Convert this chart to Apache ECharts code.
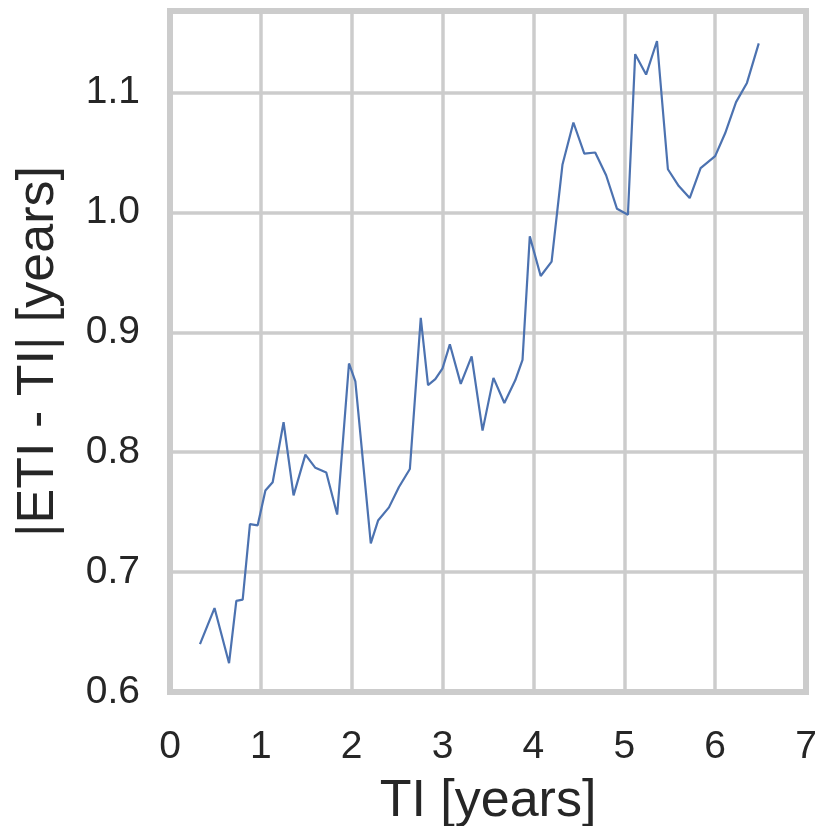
<!DOCTYPE html>
<html>
<head>
<meta charset="utf-8">
<script src="https://cdn.jsdelivr.net/npm/echarts@6/dist/echarts.min.js"></script>
<style>
html,body{margin:0;padding:0;background:#fff;}
#chart{width:819px;height:826px;}
</style>
</head>
<body>
<div id="chart"></div>
<script>
const tiYears = [0.33,0.41,0.49,0.65,0.73,0.80,0.88,0.965,1.05,1.13,1.25,1.36,1.49,1.60,1.72,1.84,1.97,2.04,2.21,2.29,2.41,2.52,2.64,2.76,2.84,2.92,3.00,3.08,3.20,3.32,3.44,3.56,3.68,3.80,3.88,3.96,4.08,4.20,4.32,4.44,4.56,4.68,4.80,4.92,5.04,5.12,5.24,5.36,5.48,5.60,5.72,5.84,6.00,6.11,6.23,6.35,6.48];
const absDiff = [0.640,0.655,0.670,0.624,0.676,0.677,0.740,0.739,0.768,0.775,0.825,0.764,0.798,0.787,0.783,0.748,0.874,0.859,0.724,0.743,0.754,0.771,0.786,0.912,0.856,0.861,0.870,0.890,0.857,0.880,0.818,0.862,0.841,0.860,0.877,0.980,0.947,0.959,1.040,1.075,1.049,1.050,1.031,1.003,0.998,1.132,1.115,1.143,1.036,1.022,1.012,1.037,1.047,1.066,1.092,1.108,1.141];
const xTitle = 'TI [years]';
const yTitle = '|ETI - TI| [years]';

const data = tiYears.map((x, i) => [x, absDiff[i]]);
const font = '"Liberation Sans", Arial, sans-serif';
const textColor = '#262626';
const gridColor = '#cccccc';

const chart = echarts.init(document.getElementById('chart'), null, {renderer: 'canvas'});
chart.setOption({
  animation: false,
  backgroundColor: '#ffffff',
  grid: {left: 170, right: 13, top: 11, bottom: 134, show: true, borderColor: gridColor, borderWidth: 6,
    backgroundColor: 'transparent', containLabel: false, outerBoundsMode: 'none'},
  xAxis: {
    type: 'value', min: 0, max: 7, interval: 1,
    name: xTitle, nameLocation: 'middle', nameGap: 84,
    nameTextStyle: {fontFamily: font, fontSize: 52, color: textColor},
    axisLine: {show: false}, axisTick: {show: false},
    axisLabel: {fontFamily: font, fontSize: 39, color: textColor, margin: 36},
    splitLine: {show: true, lineStyle: {color: gridColor, width: 3.5}}
  },
  yAxis: {
    type: 'value', min: 0.6, max: 1.168, interval: 0.1,
    name: yTitle, nameLocation: 'middle', nameGap: 105, nameRotate: 90,
    nameTextStyle: {fontFamily: font, fontSize: 52, color: textColor},
    axisLine: {show: false}, axisTick: {show: false},
    axisLabel: {fontFamily: font, fontSize: 39, color: textColor, margin: 30, showMaxLabel: false,
      formatter: v => (Math.abs(v / 0.1 - Math.round(v / 0.1)) < 1e-6) ? v.toFixed(1) : ''},
    splitLine: {show: true, lineStyle: {color: gridColor, width: 3.5}}
  },
  series: [{
    type: 'line', data: data, showSymbol: false, symbol: 'none',
    lineStyle: {color: '#4c72b0', width: 2.2}, z: 5
  }]
});
</script>
</body>
</html>
